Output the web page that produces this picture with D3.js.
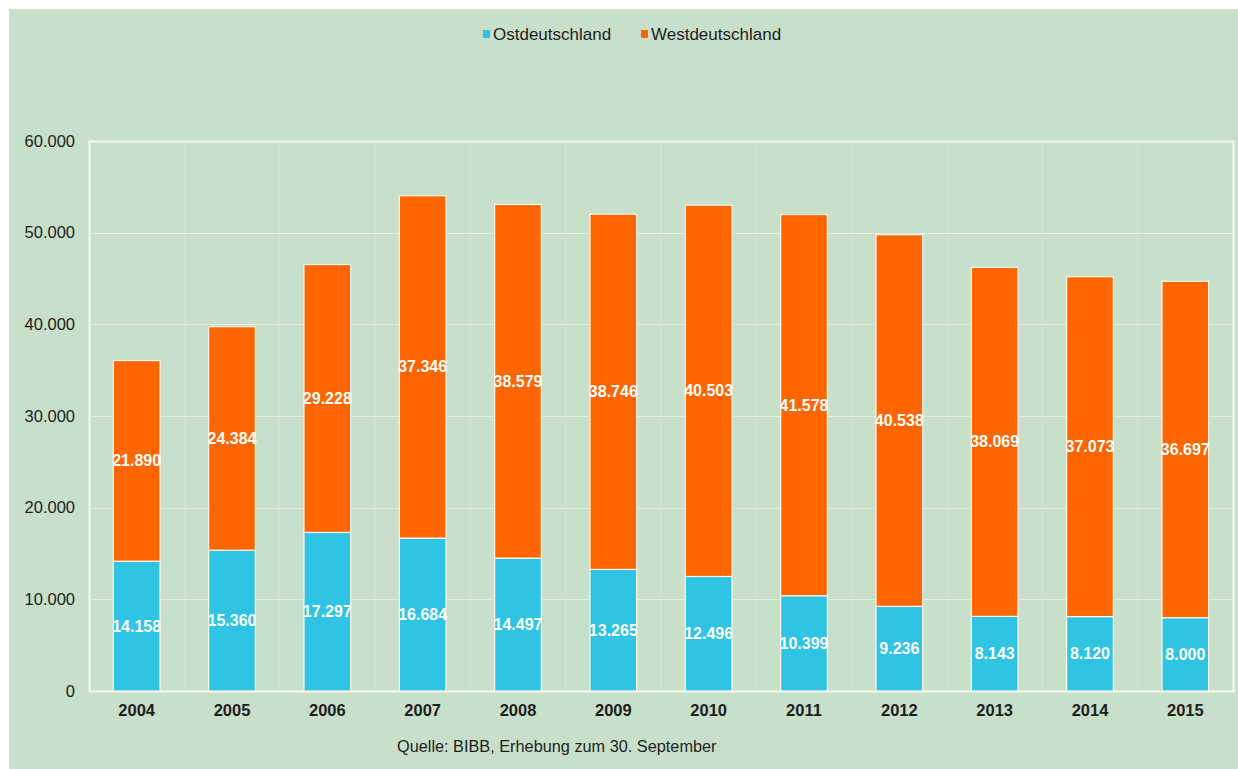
<!DOCTYPE html>
<html>
<head>
<meta charset="utf-8">
<script src="https://cdn.jsdelivr.net/npm/d3@7"></script>
<style>
  html, body { margin: 0; background: #fff; overflow: hidden; }
  svg { display: block; font-family: Arial, "Liberation Sans", sans-serif; }
</style>
</head>
<body>
<div id="chart"></div>
<script>
// data
const years = ["2004", "2005", "2006", "2007", "2008", "2009", "2010", "2011", "2012", "2013", "2014", "2015"];
const ost = [14158, 15360, 17297, 16684, 14497, 13265, 12496, 10399, 9236, 8143, 8120, 8000];
const west = [21890, 24384, 29228, 37346, 38579, 38746, 40503, 41578, 40538, 38069, 37073, 36697];
const seriesNames = ["Ostdeutschland", "Westdeutschland"];
const yTicks = [0, 10000, 20000, 30000, 40000, 50000, 60000];
const sourceText = "Quelle: BIBB, Erhebung zum 30. September";

const width = 1238;
const height = 769;
const marginTop = 141;
const marginRight = 5;
const marginBottom = 78;
const marginLeft = 89;

const colors = { Ostdeutschland: "#2fc4e3", Westdeutschland: "#ff6600" };
const fmt = d3.formatLocale({ decimal: ",", thousands: ".", grouping: [3], currency: ["", "€"] }).format(",d");

const rows = years.map((y, i) => ({ year: y, Ostdeutschland: ost[i], Westdeutschland: west[i] }));
const stacked = d3.stack().keys(seriesNames)(rows);

const svg = d3.select("#chart").append("svg")
    .attr("width", width)
    .attr("height", height);

// green panel with a white frame on top and left
svg.append("rect")
    .attr("x", 9).attr("y", 9)
    .attr("width", width).attr("height", height)
    .attr("fill", "#c8dfca");

const x = d3.scaleBand()
    .domain(years)
    .range([marginLeft, width - marginRight])
    .paddingInner(0.51)
    .paddingOuter(0.255);

const y = d3.scaleLinear()
    .domain([0, 60000])
    .range([height - marginBottom, marginTop]);

// faint vertical separators between categories
svg.append("g")
    .selectAll("line")
    .data(d3.range(1, years.length))
    .join("line")
    .attr("x1", d => marginLeft + d * (width - marginRight - marginLeft) / years.length)
    .attr("x2", d => marginLeft + d * (width - marginRight - marginLeft) / years.length)
    .attr("y1", marginTop)
    .attr("y2", y(0))
    .attr("stroke", "#d1e5d3")
    .attr("stroke-width", 1);

// horizontal grid
svg.append("g")
    .selectAll("line")
    .data(yTicks.filter(d => d > 0 && d < 60000))
    .join("line")
    .attr("x1", marginLeft)
    .attr("x2", width - marginRight)
    .attr("y1", d => Math.round(y(d)) + 0.5)
    .attr("y2", d => Math.round(y(d)) + 0.5)
    .attr("stroke", "#e2efe3")
    .attr("stroke-width", 1);

// plot frame (white)
svg.append("rect")
    .attr("x", marginLeft + 0.5)
    .attr("y", marginTop + 0.5)
    .attr("width", width - marginRight - marginLeft)
    .attr("height", y(0) - marginTop)
    .attr("fill", "none")
    .attr("stroke", "#f4faf2")
    .attr("stroke-width", 2);

// bars
const layers = svg.append("g")
    .selectAll("g")
    .data(stacked)
    .join("g")
    .attr("fill", d => colors[d.key]);

layers.selectAll("rect")
    .data(d => d)
    .join("rect")
    .attr("x", d => x(d.data.year))
    .attr("y", d => y(d[1]))
    .attr("width", x.bandwidth())
    .attr("height", d => y(d[0]) - y(d[1]))
    .attr("stroke", "#fdf6e8")
    .attr("stroke-width", 1.2);

// value labels inside bars
layers.selectAll("text")
    .data(d => d.map(v => ({ v, key: d.key })))
    .join("text")
    .attr("x", d => x(d.v.data.year) + x.bandwidth() / 2)
    .attr("y", d => (y(d.v[0]) + y(d.v[1])) / 2)
    .attr("dy", "0.35em")
    .attr("text-anchor", "middle")
    .attr("fill", "#ffffff")
    .attr("font-size", 16)
    .attr("font-weight", "bold")
    .text(d => fmt(d.v.data[d.key]));

// y axis labels
const yAxis = d3.axisLeft(y)
    .tickValues(yTicks)
    .tickSize(0)
    .tickPadding(14)
    .tickFormat(d => fmt(d));

svg.append("g")
    .attr("transform", `translate(${marginLeft},0)`)
    .call(yAxis)
    .call(g => g.select(".domain").remove())
    .call(g => g.selectAll("text")
        .attr("font-size", 16.5)
        .attr("fill", "#1e1e1e"));

// x axis labels
const xAxis = d3.axisBottom(x).tickSize(0).tickPadding(13);

svg.append("g")
    .attr("transform", `translate(0,${y(0)})`)
    .call(xAxis)
    .call(g => g.select(".domain").remove())
    .call(g => g.selectAll("text")
        .attr("font-size", 16.5)
        .attr("font-weight", "bold")
        .attr("fill", "#1e1e1e"));

// legend
const legendPos = [{ name: seriesNames[0], x: 483 }, { name: seriesNames[1], x: 641 }];
const legend = svg.append("g")
    .selectAll("g")
    .data(legendPos)
    .join("g")
    .attr("transform", d => `translate(${d.x},34)`);

legend.append("rect")
    .attr("x", 0).attr("y", -4)
    .attr("width", 7).attr("height", 8)
    .attr("fill", d => colors[d.name]);

legend.append("text")
    .attr("x", 10)
    .attr("dy", "0.35em")
    .attr("font-size", 17)
    .attr("fill", "#1e1e1e")
    .text(d => d.name);

// source note
svg.append("text")
    .attr("x", 397)
    .attr("y", 746)
    .attr("dy", "0.35em")
    .attr("font-size", 16.3)
    .attr("fill", "#1e1e1e")
    .text(sourceText);
</script>
</body>
</html>
